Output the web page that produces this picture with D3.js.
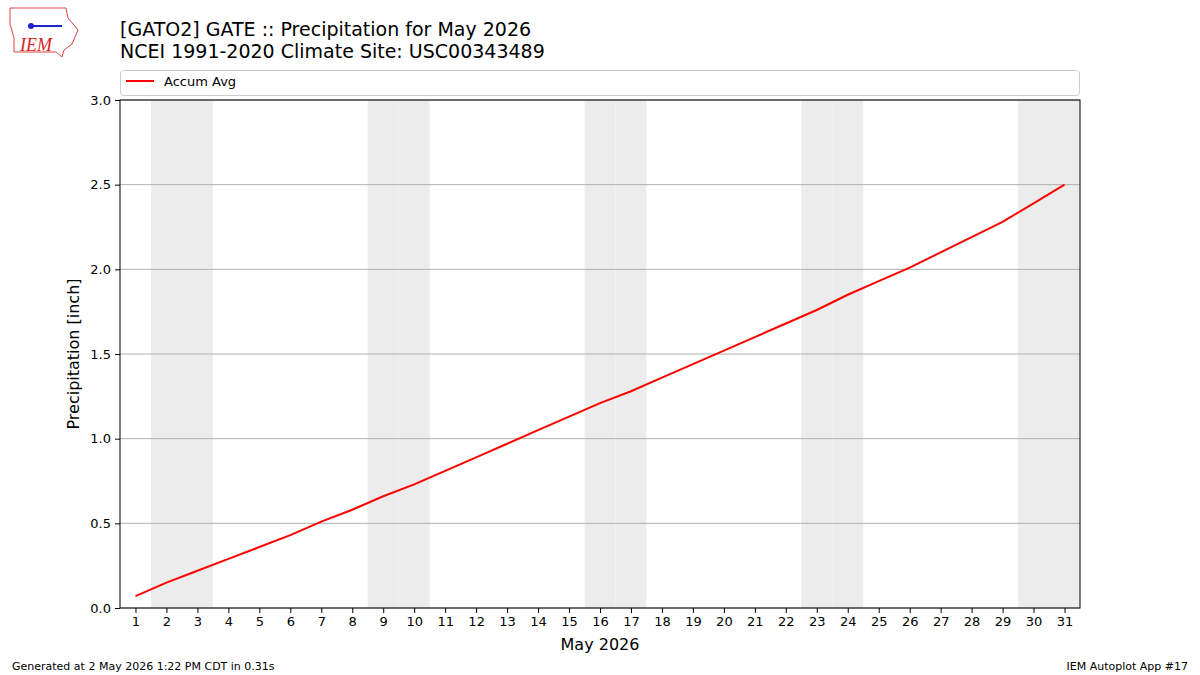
<!DOCTYPE html>
<html><head><meta charset="utf-8">
<script src="https://cdn.jsdelivr.net/npm/d3@7"></script>
<style>body{margin:0;background:#fff;font-family:"DejaVu Sans",sans-serif;}</style>
</head><body><div id="chart"></div>
<script>
// chart data
const days = d3.range(1, 32);
const accumAvg = [0.07,0.15,0.22,0.29,0.36,0.43,0.51,0.58,0.66,0.73,0.81,0.89,0.97,1.05,1.13,1.21,1.28,1.36,1.44,1.52,1.60,1.68,1.76,1.85,1.93,2.01,2.10,2.19,2.28,2.39,2.50];
const weekendDays = [2,3,9,10,16,17,23,24,30,31];
const yTicks = [0,0.5,1.0,1.5,2.0,2.5,3.0];

const margin = {top: 100, right: 120, bottom: 67, left: 120};
const width = 1200 - margin.left - margin.right;
const height = 675 - margin.top - margin.bottom;

const svg = d3.select("#chart").append("svg")
    .attr("width", 1200).attr("height", 675);

// titles
svg.append("text").attr("x", 120).attr("y", 36).attr("font-size", 19)
    .text("[GATO2] GATE :: Precipitation for May 2026");
svg.append("text").attr("x", 120).attr("y", 58).attr("font-size", 19)
    .text("NCEI 1991-2020 Climate Site: USC00343489");

// rough logo
const logo = svg.append("g");
logo.append("path").attr("d", "M10,8 L66,8 L68,18 L78,30 L72,44 L64,50 L62,57 L56,52 L14,52 L14,38 L10,24 Z")
    .attr("fill", "none").attr("stroke", "#d44").attr("stroke-width", 1);
logo.append("line").attr("x1", 28).attr("y1", 26).attr("x2", 62).attr("y2", 26).attr("stroke", "#22c").attr("stroke-width", 2);
logo.append("circle").attr("cx", 31).attr("cy", 26).attr("r", 3).attr("fill", "#22c");
logo.append("text").attr("x", 20).attr("y", 51).attr("font-family", "Liberation Serif").attr("font-style", "italic")
    .attr("font-size", 18).attr("fill", "#d22").text("IEM");

// legend
svg.append("rect").attr("x", 120.5).attr("y", 70.5).attr("width", 959).attr("height", 25).attr("rx", 3)
    .attr("fill", "#fff").attr("stroke", "#ccc");
svg.append("line").attr("x1", 126).attr("x2", 154).attr("y1", 81).attr("y2", 81).attr("stroke", "red").attr("stroke-width", 2);
svg.append("text").attr("x", 164).attr("y", 86).attr("font-size", 13).text("Accum Avg");

const g = svg.append("g").attr("transform", `translate(${margin.left},${margin.top})`);

const x = d3.scaleLinear().domain([0.5, 31.5]).range([0, width]);
const y = d3.scaleLinear().domain([0, 3]).range([height, 0]);

// weekend shading
g.selectAll(".wk").data(weekendDays).enter().append("rect")
    .attr("x", d => x(d - 0.5)).attr("width", x(1.5) - x(0.5))
    .attr("y", 0).attr("height", height).attr("fill", "#ececec");

// grid
g.selectAll(".grid").data(yTicks).enter().append("line")
    .attr("x1", 0).attr("x2", width).attr("y1", d => y(d)).attr("y2", d => y(d))
    .attr("stroke", "#b0b0b0").attr("stroke-width", 1);

// line
g.append("path").datum(days)
    .attr("fill", "none").attr("stroke", "red").attr("stroke-width", 2)
    .attr("d", d3.line().x(d => x(d)).y((d, i) => y(accumAvg[i])));

// frame
g.append("rect").attr("width", width).attr("height", height).attr("fill", "none").attr("stroke", "#000");

// axes
const xAxis = g.append("g").attr("transform", `translate(0,${height})`)
    .call(d3.axisBottom(x).tickValues(days).tickSize(5).tickPadding(4));
const yAxis = g.append("g")
    .call(d3.axisLeft(y).tickValues(yTicks).tickFormat(d3.format(".1f")).tickSize(5).tickPadding(4));
[xAxis, yAxis].forEach(a => {
    a.selectAll("text").attr("font-size", 13).attr("font-family", "DejaVu Sans").attr("fill", "#000");
    a.select(".domain").remove();
});

svg.append("text").attr("x", 600).attr("y", 650).attr("text-anchor", "middle").attr("font-size", 16).text("May 2026");
svg.append("text").attr("transform", "translate(79,354) rotate(-90)").attr("text-anchor", "middle")
    .attr("font-size", 16).text("Precipitation [inch]");

svg.append("text").attr("x", 12).attr("y", 670).attr("font-size", 11).text("Generated at 2 May 2026 1:22 PM CDT in 0.31s");
svg.append("text").attr("x", 1188).attr("y", 670).attr("text-anchor", "end").attr("font-size", 11).text("IEM Autoplot App #17");
</script>
</body></html>
